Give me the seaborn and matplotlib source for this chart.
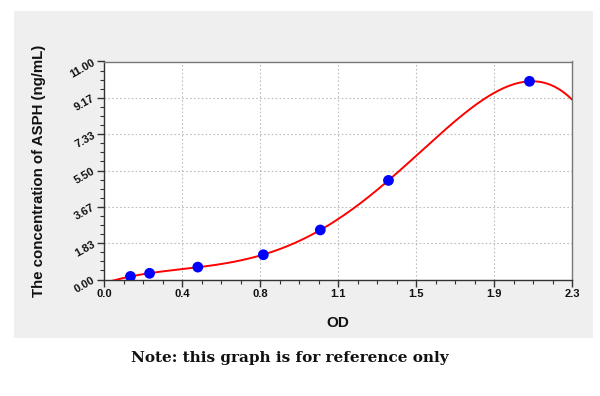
import numpy as np
import pandas as pd
import matplotlib
matplotlib.use("Agg")
import matplotlib.pyplot as plt
from matplotlib.patches import Rectangle
from matplotlib.ticker import FixedLocator, AutoMinorLocator
import seaborn as sns

# Data
od = [0.130, 0.224, 0.461, 0.783, 1.063, 1.398, 2.091]
conc = [0.156, 0.312, 0.625, 1.25, 2.5, 5.0, 10.0]
x_ticks = [0.0, 2.3 / 6, 2 * 2.3 / 6, 3 * 2.3 / 6, 4 * 2.3 / 6, 5 * 2.3 / 6, 2.3]
x_tick_labels = ["0.0", "0.4", "0.8", "1.1", "1.5", "1.9", "2.3"]
y_ticks = [0.0, 11 / 6, 2 * 11 / 6, 3 * 11 / 6, 4 * 11 / 6, 5 * 11 / 6, 11.0]
y_tick_labels = ["0.00", "1.83", "3.67", "5.50", "7.33", "9.17", "11.00"]

sns.set_theme(style="white")
plt.rcParams["font.family"] = ["Liberation Sans", "DejaVu Sans"]

fig = plt.figure(figsize=(6.0, 3.96), dpi=100)
fig.patch.set_facecolor("white")
bg = Rectangle((14 / 600, 1 - 338 / 396), 579 / 600, 327 / 396,
               transform=fig.transFigure, facecolor="#efefef",
               edgecolor="none", zorder=-10)
fig.patches.append(bg)

ax = fig.add_axes([104 / 600, 1 - 279.5 / 396, 468 / 600, 218 / 396])
ax.set_zorder(1)
ax.set_facecolor("white")

# Fitted standard curve (polynomial regression on the data)
coef = np.polyfit(od, conc, 5)
xs = np.linspace(0, 2.3, 400)
curve = pd.DataFrame({"x": xs, "y": np.polyval(coef, xs)})
sns.lineplot(data=curve, x="x", y="y", ax=ax, color="#ff0000", linewidth=1.4, zorder=3)

pts = pd.DataFrame({"OD": od, "conc": conc})
sns.scatterplot(data=pts, x="OD", y="conc", ax=ax, color="#0000ff", s=60,
                edgecolor="none", zorder=4)

ax.set_xlim(0, 2.3)
ax.set_ylim(0, 11)
ax.xaxis.set_major_locator(FixedLocator(x_ticks))
ax.yaxis.set_major_locator(FixedLocator(y_ticks))
ax.set_xticklabels(x_tick_labels)
ax.set_yticklabels(y_tick_labels)
ax.xaxis.set_minor_locator(AutoMinorLocator(4))
ax.yaxis.set_minor_locator(AutoMinorLocator(4))
ax.tick_params(axis="both", which="major", direction="out", length=5, width=1,
               color="#333333", labelsize=8, labelcolor="#111111", pad=2,
               bottom=True, left=True)
ax.tick_params(axis="both", which="minor", direction="out", length=3, width=0.8,
               color="#333333", bottom=True, left=True)
for lab in ax.get_xticklabels():
    lab.set_fontweight("bold")
for lab in ax.get_yticklabels():
    lab.set_fontweight("bold")
    lab.set_rotation(30)
    lab.set_ha("right")
    lab.set_va("center")
    lab.set_rotation_mode("anchor")

ax.grid(True, which="major", linestyle=(0, (1.5, 2)), color="#bdbdbd", linewidth=0.8)
for side in ["left", "bottom"]:
    ax.spines[side].set_color("#333333")
    ax.spines[side].set_linewidth(1.0)
for side in ["top", "right"]:
    ax.spines[side].set_color("#777777")
    ax.spines[side].set_linewidth(1.0)

ax.set_xlabel("OD", fontsize=11, fontweight="bold", color="#111111", labelpad=12)
ax.set_ylabel("The concentration of ASPH (ng/mL)", fontsize=10.8, fontweight="bold",
              color="#111111", labelpad=16)

fig.text(290 / 600, 1 - 358 / 396, "Note: this graph is for reference only",
         ha="center", va="center", fontsize=11, fontweight="bold", color="#111111",
         family=["DejaVu Serif"])

fig.savefig("out.png", dpi=100)
